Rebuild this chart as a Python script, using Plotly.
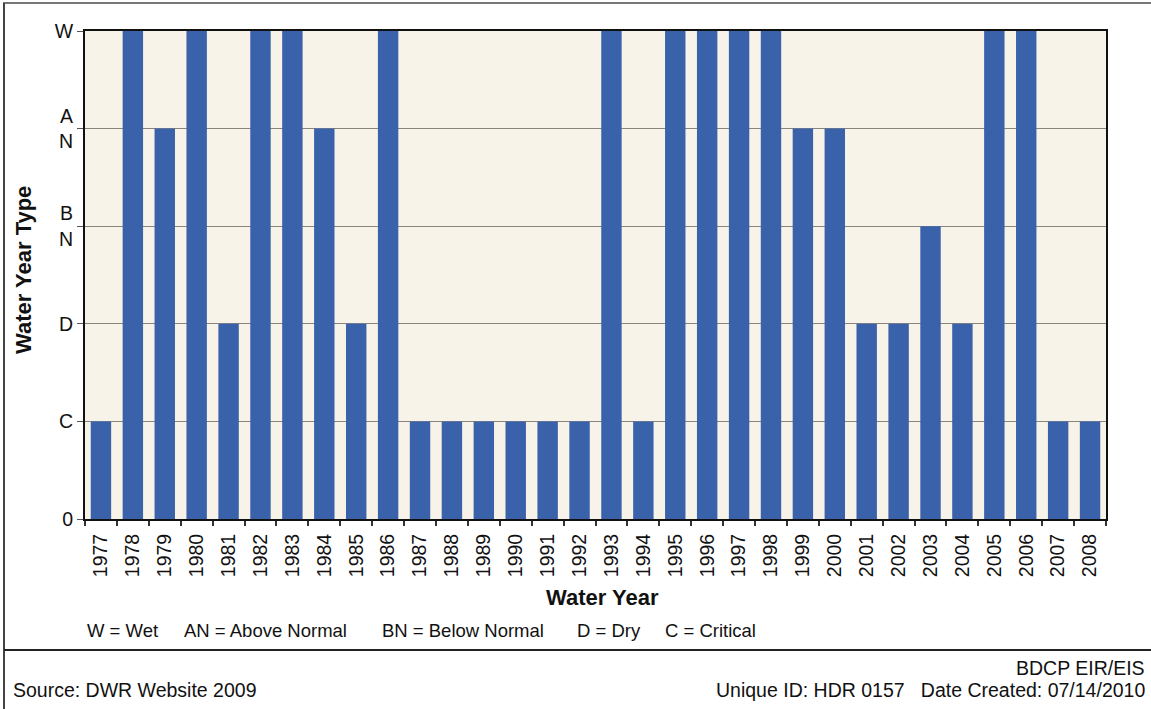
import plotly.graph_objects as go

years = [str(y) for y in range(1977, 2009)]
# 1 = C (Critical), 2 = D (Dry), 3 = BN, 4 = AN, 5 = W (Wet)
types = [1, 5, 4, 5, 2, 5, 5, 4, 2, 5,
         1, 1, 1, 1, 1, 1, 5, 1, 5, 5,
         5, 5, 4, 4, 2, 2, 3, 2, 5, 5,
         1, 1]
ytick_vals = [0, 1, 2, 3, 4, 5]
ytick_text = ["0", "C", "D", "B<br>N", "A<br>N", "W"]

W, H = 1151, 709
L, R, T, B = 85, 1106, 31, 519
FONT = "Liberation Sans, Arial, sans-serif"


def px(x):
    return (x - L) / (R - L)


def py(y):
    return (B - y) / (B - T)


fig = go.Figure()
fig.add_trace(go.Bar(x=years, y=types, marker=dict(color="#3A62AA", line=dict(width=0)),
                     hoverinfo="x+y"))

fig.update_layout(
    width=W, height=H,
    margin=dict(l=L, r=W - R, t=T, b=H - B, pad=0),
    paper_bgcolor="white",
    plot_bgcolor="#F8F3E8",
    bargap=0.36,
    showlegend=False,
    font=dict(family=FONT, color="#111111"),
    xaxis=dict(
        type="category", tickson="boundaries", ticks="outside", ticklen=5,
        tickcolor="#333333", tickwidth=1.5, tickangle=-90, ticklabelstandoff=5,
        tickfont=dict(size=19.5, family=FONT, color="#111111"),
        showline=True, linecolor="#111111", linewidth=2, mirror=True,
        showgrid=False, zeroline=False,
    ),
    yaxis=dict(
        range=[0, 5], tickvals=ytick_vals, ticktext=ytick_text,
        ticks="outside", ticklen=6, tickcolor="#555555", tickwidth=1,
        tickfont=dict(size=19.5, family=FONT, color="#111111"),
        showline=True, linecolor="#111111", linewidth=2, mirror=True,
        showgrid=True, gridcolor="#8A857C", gridwidth=1, zeroline=False,
    ),
)

# Axis titles
fig.add_annotation(text="<b>Water Year Type</b>", xref="paper", yref="paper",
                   x=px(23), y=py(270), textangle=-90, showarrow=False,
                   xanchor="center", yanchor="middle",
                   font=dict(size=22, family=FONT, color="#111111"))
fig.add_annotation(text="<b>Water Year</b>", xref="paper", yref="paper",
                   x=px(602), y=py(597), showarrow=False,
                   xanchor="center", yanchor="middle",
                   font=dict(size=22, family=FONT, color="#111111"))

# Key line
key = [("W = Wet", 85), ("AN = Above Normal", 182), ("BN = Below Normal", 380),
       ("D = Dry", 575), ("C = Critical", 663)]
for txt, x0 in key:
    fig.add_annotation(text=txt, xref="paper", yref="paper", x=px(x0), y=py(630),
                       xanchor="left", yanchor="middle", showarrow=False,
                       font=dict(size=18.5, family=FONT, color="#111111"))

# Footer
fig.add_annotation(text="Source: DWR Website 2009", xref="paper", yref="paper",
                   x=px(11), y=py(690), xanchor="left", yanchor="middle", showarrow=False,
                   font=dict(size=19.5, family=FONT, color="#111111"))
fig.add_annotation(text="BDCP EIR/EIS", xref="paper", yref="paper",
                   x=px(1147), y=py(668), xanchor="right", yanchor="middle", showarrow=False,
                   font=dict(size=19.5, family=FONT, color="#111111"))
fig.add_annotation(text="Unique ID: HDR 0157   Date Created: 07/14/2010", xref="paper", yref="paper",
                   x=px(1147), y=py(690), xanchor="right", yanchor="middle", showarrow=False,
                   font=dict(size=19.5, family=FONT, color="#111111"))

# Frame lines
fig.add_shape(type="line", xref="paper", yref="paper", x0=px(3), x1=px(1151), y0=py(3), y1=py(3),
              line=dict(color="#777777", width=2))
fig.add_shape(type="line", xref="paper", yref="paper", x0=px(4), x1=px(4), y0=py(3), y1=py(709),
              line=dict(color="#444444", width=2))
fig.add_shape(type="line", xref="paper", yref="paper", x0=px(4), x1=px(1151), y0=py(650), y1=py(650),
              line=dict(color="#222222", width=2))

fig.write_html("out.html", config={"displayModeBar": False},
               post_script="document.body.style.margin='0px';document.body.style.overflow='hidden';")
